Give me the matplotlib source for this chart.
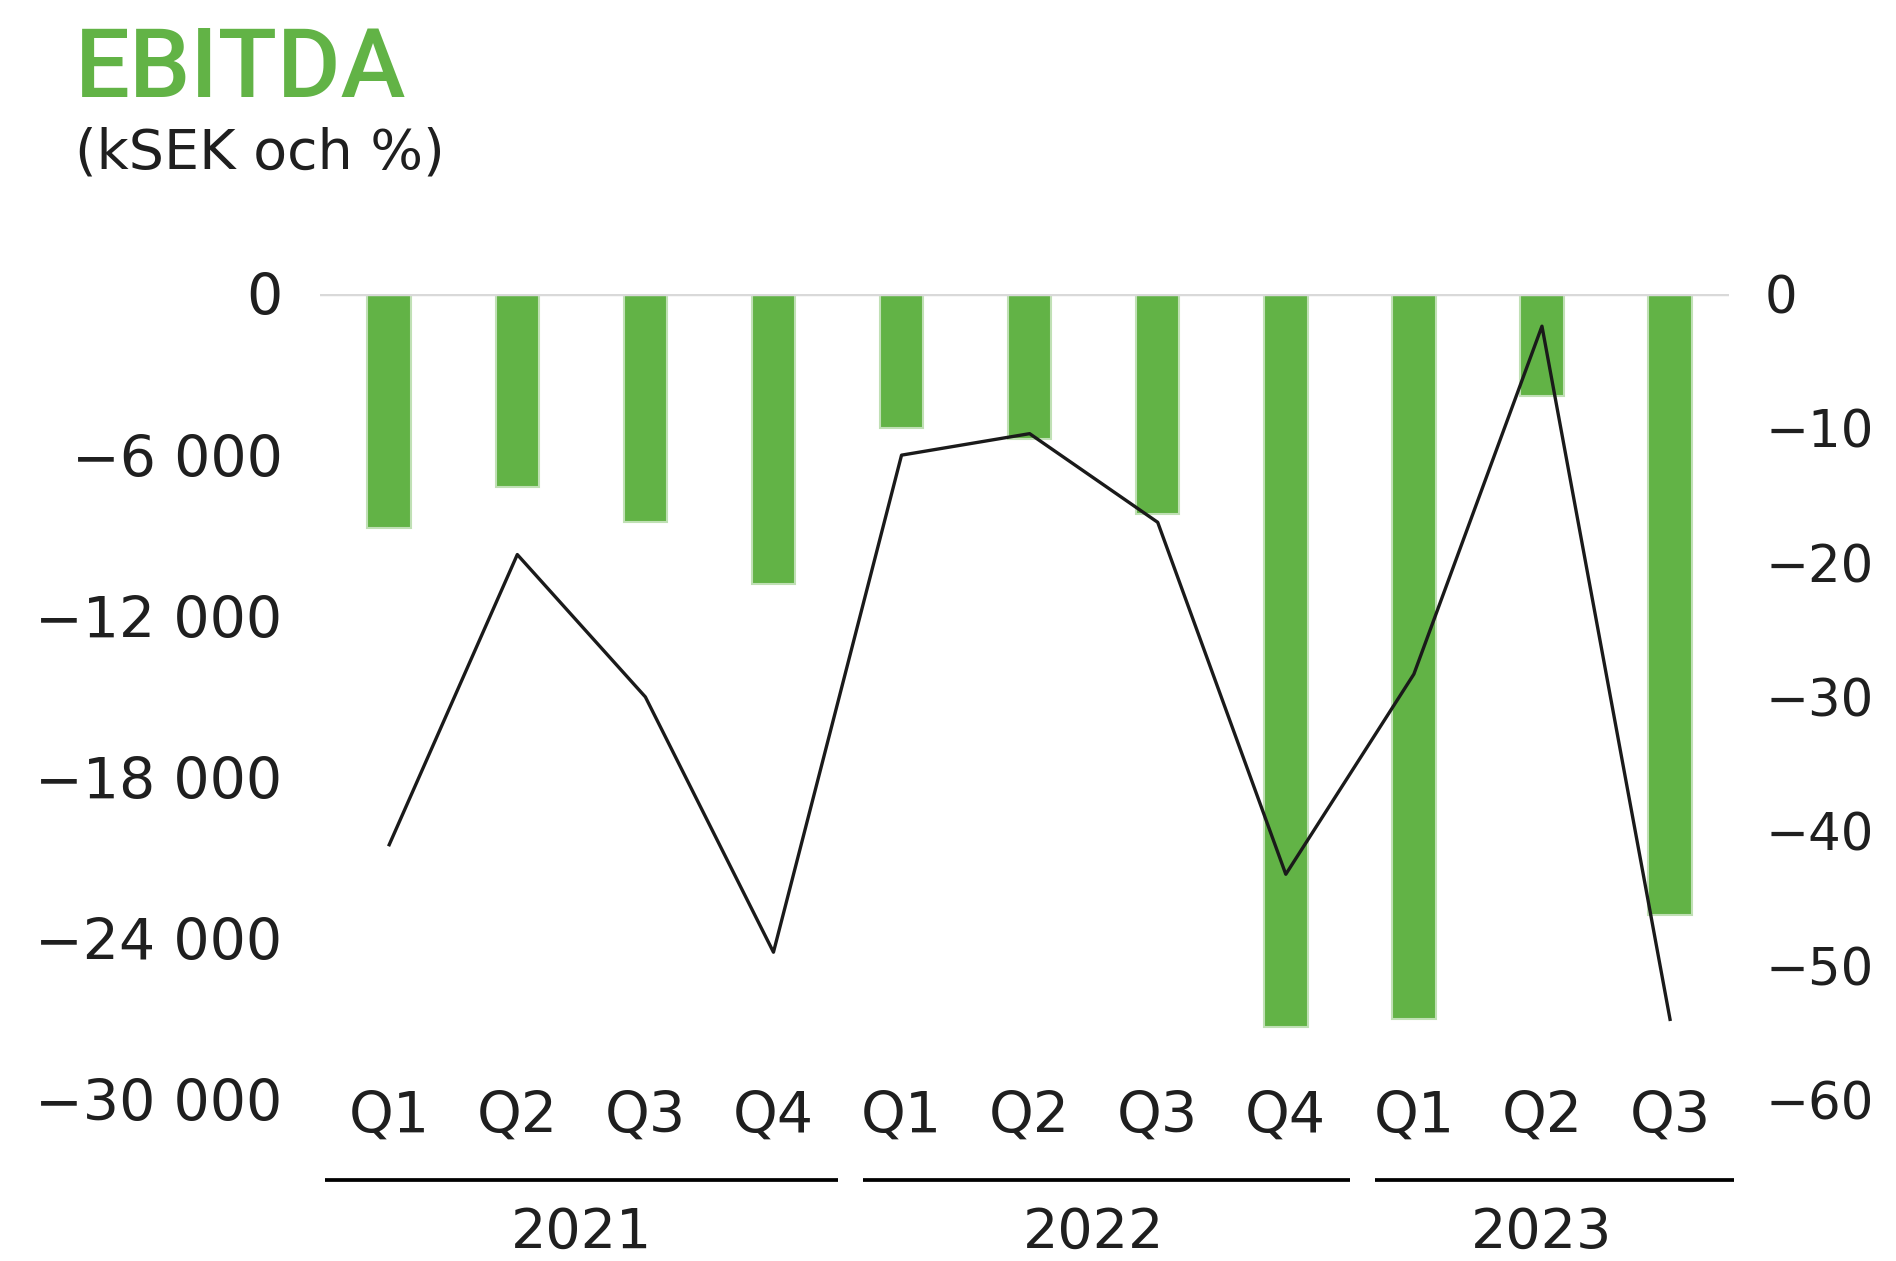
import matplotlib

matplotlib.use("Agg")
import matplotlib.pyplot as plt

quarters = ["Q1", "Q2", "Q3", "Q4", "Q1", "Q2", "Q3", "Q4", "Q1", "Q2", "Q3"]
years = ["2021", "2022", "2023"]
year_groups = [[0, 1, 2, 3], [4, 5, 6, 7], [8, 9, 10]]
ebitda = [-8700, -7200, -8500, -10800, -5000, -5400, -8200, -27300, -27000, -3800, -23100]
margin = [-41.0, -19.4, -30.0, -49.0, -12.0, -10.4, -17.0, -43.2, -28.3, -2.4, -54.0]
left_ticks = [0, -6000, -12000, -18000, -24000, -30000]
right_ticks = [0, -10, -20, -30, -40, -50, -60]

GREEN = "#62b346"
EDGE = "#c0e0b5"
TEXT = "#1f1f1f"


def fmt(value):
    return f"{value:,}".replace(",", " ").replace("-", "\u2212")


def main():
    plt.rcParams["font.family"] = ["DejaVu Sans"]
    fig = plt.figure(figsize=(18.96, 12.61), dpi=100)
    ax = fig.add_axes([0.1688, 0.1277, 0.7431, 0.6392])
    ax2 = ax.twinx()

    x = list(range(len(quarters)))
    ax.bar(x, ebitda, width=0.34, color=GREEN, edgecolor=EDGE, linewidth=1.5, zorder=2)
    ax.axhline(0, color="#d9d9d9", linewidth=2.5, zorder=3)
    ax2.plot(x, margin, color="#1a1a1a", linewidth=2.4, zorder=4)

    ax.set_xlim(-0.54, 10.46)
    ax.set_ylim(-30000, 0)
    ax2.set_ylim(-60, 0)

    ax.set_yticks(left_ticks)
    ax.set_yticklabels([fmt(v) for v in left_ticks])
    ax2.set_yticks(right_ticks)
    ax2.set_yticklabels([fmt(v) for v in right_ticks])
    ax.set_xticks([])
    ax.tick_params(axis="y", length=0, pad=27, labelsize=41, labelcolor=TEXT)
    ax2.tick_params(axis="y", length=0, pad=26, labelsize=37, labelcolor=TEXT)
    for axis in (ax, ax2):
        for spine in axis.spines.values():
            spine.set_visible(False)

    trans = ax.get_xaxis_transform()
    for i, label in enumerate(quarters):
        ax.text(i, -0.041, label, transform=trans, ha="center", va="baseline",
                fontsize=41, color=TEXT)

    for g, (year, idx) in enumerate(zip(years, year_groups)):
        start = idx[0] - 0.5 + (0.2 if g > 0 else 0.0)
        end = idx[-1] + 0.5
        ax.plot([start, end], [-0.099, -0.099], transform=trans, color="black",
                linewidth=2.7, clip_on=False, solid_capstyle="butt")
        ax.text(sum(idx) / len(idx), -0.183, year, transform=trans, ha="center",
                va="baseline", fontsize=40, color=TEXT)

    fig.text(0.0396, 0.9231, "EBITDA", fontsize=70, color=GREEN,
             family=["Roboto", "DejaVu Sans"], fontweight="medium", va="baseline")
    fig.text(0.0396, 0.866, "(kSEK och %)", fontsize=40, color=TEXT, va="baseline")

    fig.savefig("out.png", dpi=100)
    plt.close(fig)


if __name__ == "__main__":
    main()
